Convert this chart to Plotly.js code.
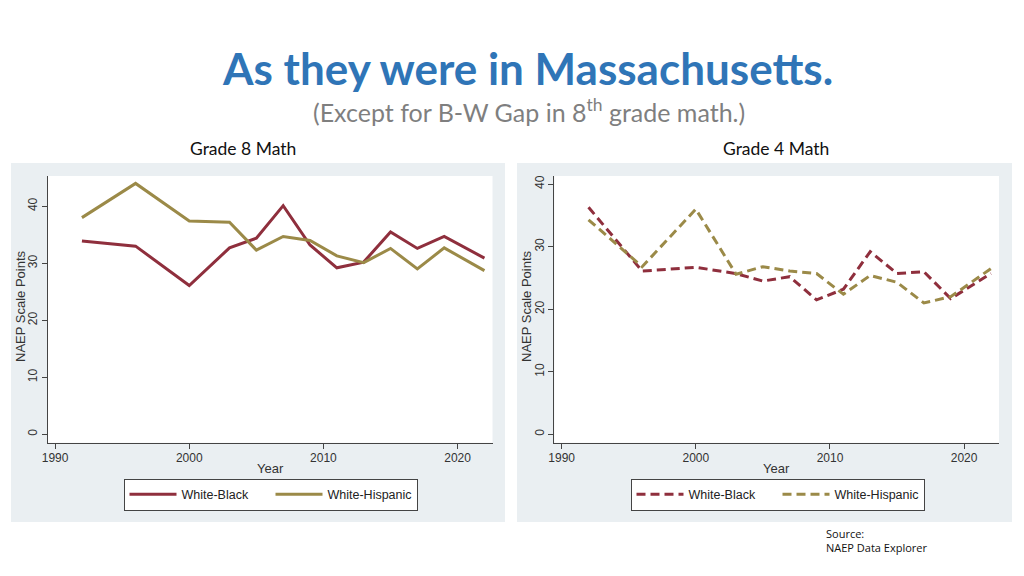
<!DOCTYPE html>
<html>
<head>
<meta charset="utf-8">
<script src="https://cdn.plot.ly/plotly-3.0.1.min.js"></script>
<style>
html,body{margin:0;padding:0;background:#fff;}
#chart{width:1024px;height:576px;}
</style>
</head>
<body>
<div id="chart"></div>
<script>
// ---- Data ----
const years = [1992, 1996, 2000, 2003, 2005, 2007, 2009, 2011, 2013, 2015, 2017, 2019, 2022];
const g8WhiteBlack    = [33.9, 33.0, 26.1, 32.7, 34.4, 40.1, 33.2, 29.2, 30.2, 35.5, 32.6, 34.7, 30.9];
const g8WhiteHispanic = [38.0, 44.0, 37.4, 37.2, 32.3, 34.7, 34.0, 31.3, 30.1, 32.6, 29.0, 32.7, 28.7];
const g4WhiteBlack    = [36.3, 26.1, 26.7, 25.7, 24.5, 25.2, 21.5, 23.2, 29.2, 25.7, 26.0, 21.7, 25.7];
const g4WhiteHispanic = [34.3, 26.8, 36.0, 25.6, 26.8, 26.1, 25.7, 22.4, 25.4, 24.3, 21.0, 22.0, 26.5];
const seriesNames = ["White-Black", "White-Hispanic"];
const xTicks = [1990, 2000, 2010, 2020];
const yTicks = [0, 10, 20, 30, 40];
const panelTitles = ["Grade 8 Math", "Grade 4 Math"];
const xTitle = "Year";
const yTitle = "NAEP Scale Points";
const mainTitle = "As they were in Massachusetts.";
const subTitle = "(Except for B-W Gap in 8<sup>th</sup> grade math.)";
const sourceText = "Source:<br>NAEP Data Explorer";

// ---- Styles ----
const RED = "#8f2f3d";
const OLIVE = "#9b8a48";
const W = 1024, H = 576;
const px = x => x / W;
const py = y => 1 - y / H;
const tickFont = {family: "Liberation Sans, Arial, sans-serif", size: 12, color: "#333"};
const titleFont = {family: "Liberation Sans, Arial, sans-serif", size: 13, color: "#333"};

const traces = [
  {x: years, y: g8WhiteBlack, name: seriesNames[0], mode: "lines", xaxis: "x", yaxis: "y",
   line: {color: RED, width: 3}, legend: "legend"},
  {x: years, y: g8WhiteHispanic, name: seriesNames[1], mode: "lines", xaxis: "x", yaxis: "y",
   line: {color: OLIVE, width: 3}, legend: "legend"},
  {x: years, y: g4WhiteBlack, name: seriesNames[0], mode: "lines", xaxis: "x2", yaxis: "y2",
   line: {color: RED, width: 3, dash: "9px,5px"}, legend: "legend2"},
  {x: years, y: g4WhiteHispanic, name: seriesNames[1], mode: "lines", xaxis: "x2", yaxis: "y2",
   line: {color: OLIVE, width: 3, dash: "9px,5px"}, legend: "legend2"}
];

function xAxis(domain, anchor) {
  return {
    domain: domain, anchor: anchor, range: [1989.45, 2022.6],
    tickmode: "array", tickvals: xTicks, ticktext: xTicks.map(String),
    ticks: "outside", ticklen: 5, tickcolor: "#444", tickwidth: 1, ticklabelstandoff: -1,
    showline: true, linecolor: "#444", linewidth: 1,
    showgrid: false, zeroline: false, tickfont: tickFont,
    automargin: false, fixedrange: true
  };
}
function yAxis(domain, anchor, range) {
  return {
    domain: domain, anchor: anchor, range: range,
    tickmode: "array", tickvals: yTicks, ticktext: yTicks.map(String), tickangle: -90,
    ticks: "outside", ticklen: 5, tickcolor: "#444", tickwidth: 1,
    showline: true, linecolor: "#444", linewidth: 1,
    showgrid: false, zeroline: false, tickfont: tickFont,
    automargin: false, fixedrange: true
  };
}

const yDom = [py(442.7), py(176)];
const legendBase = {
  orientation: "h", xanchor: "left", yanchor: "top",
  bgcolor: "#ffffff", bordercolor: "#444", borderwidth: 1,
  font: {family: "Liberation Sans, Arial, sans-serif", size: 12.5, color: "#222"},
  itemwidth: 47, entrywidth: 84, entrywidthmode: "pixels",
  itemclick: false, itemdoubleclick: false, tracegroupgap: 0
};

function ann(text, x, y, font, extra) {
  return Object.assign({text: text, xref: "paper", yref: "paper", x: px(x), y: py(y),
    xanchor: "center", yanchor: "middle", showarrow: false, font: font}, extra || {});
}

const layout = {
  width: W, height: H,
  margin: {l: 0, r: 0, t: 0, b: 0},
  paper_bgcolor: "#ffffff", plot_bgcolor: "#ffffff",
  showlegend: true,
  xaxis: xAxis([px(47.7), px(492.5)], "y"),
  yaxis: yAxis(yDom, "x", [-1.47, 45.3]),
  xaxis2: xAxis([px(554.3), px(999)], "y2"),
  yaxis2: yAxis(yDom, "x2", [-1.34, 41.3]),
  legend: Object.assign({x: px(123.5), y: py(478.5)}, legendBase),
  legend2: Object.assign({x: px(630.5), y: py(478.5)}, legendBase),
  shapes: [
    {type: "rect", xref: "paper", yref: "paper", x0: px(11), x1: px(505), y0: py(522), y1: py(163),
     fillcolor: "#eaeff2", line: {width: 0}, layer: "below"},
    {type: "rect", xref: "paper", yref: "paper", x0: px(517), x1: px(1012), y0: py(522), y1: py(163),
     fillcolor: "#eaeff2", line: {width: 0}, layer: "below"},
    {type: "rect", xref: "paper", yref: "paper", x0: px(47.7), x1: px(492.5), y0: py(442.7), y1: py(176),
     fillcolor: "#ffffff", line: {width: 0}, layer: "below"},
    {type: "rect", xref: "paper", yref: "paper", x0: px(554.3), x1: px(999), y0: py(442.7), y1: py(176),
     fillcolor: "#ffffff", line: {width: 0}, layer: "below"}
  ],
  annotations: [
    ann("<b>" + mainTitle + "</b>", 527.5, 68, {family: "Lato, sans-serif", size: 44, color: "#2f75b7"}),
    ann(subTitle, 529, 110, {family: "Lato, sans-serif", size: 25, color: "#7f7f7f"}),
    ann(panelTitles[0], 243, 148, {family: "Lato, sans-serif", size: 17.5, color: "#111"}),
    ann(panelTitles[1], 776, 148, {family: "Lato, sans-serif", size: 17.5, color: "#111"}),
    ann(xTitle, 270, 468, titleFont),
    ann(xTitle, 776, 468, titleFont),
    ann(yTitle, 20, 306, titleFont, {textangle: -90}),
    ann(yTitle, 526, 306, titleFont, {textangle: -90}),
    ann(sourceText, 824, 540, {family: "Open Sans, sans-serif", size: 11, color: "#111"},
        {xanchor: "left", align: "left"})
  ]
};

Plotly.newPlot("chart", traces, layout, {staticPlot: true, displayModeBar: false});
</script>
</body>
</html>
